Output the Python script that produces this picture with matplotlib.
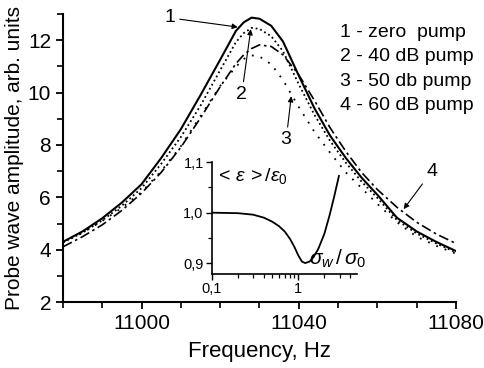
import matplotlib
matplotlib.use('Agg')
import matplotlib.pyplot as plt
from matplotlib.ticker import MultipleLocator, FixedLocator, FixedFormatter, NullFormatter

plt.rcParams['font.family'] = ['Liberation Sans', 'DejaVu Sans']
plt.rcParams['mathtext.fontset'] = 'custom'
plt.rcParams['mathtext.rm'] = 'Liberation Sans'
plt.rcParams['mathtext.it'] = 'Liberation Sans:italic'

# frequency grid, Hz
freq = [10980, 10985, 10990, 10995, 11000, 11005, 11010, 11015, 11020, 11024, 11026, 11028, 11030,
        11033, 11036, 11040, 11044, 11048, 11052, 11056, 11060, 11065, 11070, 11075, 11080]

zero_pump = [4.30, 4.70, 5.20, 5.80, 6.50, 7.50, 8.60, 9.90, 11.25, 12.35, 12.68, 12.86, 12.82,
             12.55, 11.95, 10.65, 9.40, 8.35, 7.50, 6.75, 6.10, 5.22, 4.70, 4.30, 3.95]
pump_40 = [4.28, 4.65, 5.12, 5.68, 6.35, 7.28, 8.30, 9.50, 10.85, 11.92, 12.27, 12.47, 12.43,
           12.15, 11.58, 10.32, 9.15, 8.15, 7.32, 6.60, 5.98, 5.13, 4.62, 4.24, 3.90]
pump_50 = [4.28, 4.65, 5.10, 5.60, 6.20, 7.00, 7.95, 9.10, 10.25, 10.98, 11.28, 11.42, 11.38,
           11.08, 10.48, 9.45, 8.50, 7.70, 6.95, 6.35, 5.75, 5.05, 4.50, 4.15, 3.85]
pump_60 = [4.11, 4.50, 4.95, 5.50, 6.16, 6.95, 7.91, 9.03, 10.22, 11.10, 11.44, 11.68, 11.82,
           11.76, 11.44, 10.68, 9.70, 8.65, 7.75, 6.95, 6.30, 5.62, 5.05, 4.60, 4.24]

legend_lines = ['1 - zero  pump', '2 - 40 dB pump', '3 - 50 db pump', '4 - 60 dB pump']

# inset: <eps>/eps0 vs sigma_w/sigma_0
ratio = [0.1, 0.2, 0.3, 0.4, 0.5, 0.6, 0.7, 0.8, 0.9, 1.0, 1.1, 1.2, 1.35, 1.5, 1.7, 2.0, 2.3, 2.6, 2.95]
eps = [1.0, 0.999, 0.996, 0.99, 0.982, 0.973, 0.962, 0.948, 0.932, 0.915, 0.903, 0.9, 0.903,
       0.912, 0.928, 0.958, 0.995, 1.032, 1.073]

fig = plt.figure(figsize=(4.84, 3.68), dpi=100)
ax = fig.add_axes([0.130, 0.179, 0.812, 0.783])

ax.plot(freq, zero_pump, color='black', lw=1.5)
ax.plot(freq, pump_40, color='black', lw=1.3, linestyle=(0, (1, 1.6)))
ax.plot(freq, pump_50, color='black', lw=1.3, linestyle=(0, (1, 4)))
ax.plot(freq, pump_60, color='black', lw=1.2, linestyle=(0, (6, 2.2, 1.5, 2.2)))

ax.set_xlim(10980, 11080)
ax.set_ylim(2, 13)
ax.xaxis.set_major_locator(MultipleLocator(40))
ax.xaxis.set_minor_locator(MultipleLocator(10))
ax.yaxis.set_major_locator(MultipleLocator(2))
ax.yaxis.set_minor_locator(MultipleLocator(1))
for s in ['top', 'right']:
    ax.spines[s].set_visible(False)
for s in ['left', 'bottom']:
    ax.spines[s].set_linewidth(1.5)
ax.tick_params(which='major', direction='out', length=5, width=1.3, labelsize=15)
ax.tick_params(which='minor', direction='out', length=4, width=1.2)
ax.set_xlabel('Frequency, Hz', fontsize=16, labelpad=6)
ax.set_ylabel('Probe wave amplitude, arb. units', fontsize=15, labelpad=3)

for i, t in enumerate(legend_lines):
    ax.text(0.705, 0.935 - i * 0.084, t, transform=ax.transAxes, fontsize=14, va='center', ha='left')

arrow = dict(arrowstyle='-|>', color='black', lw=0.8, mutation_scale=8, shrinkA=1, shrinkB=0)
ax.annotate('1', xy=(11024.5, 12.5), xytext=(11007.3, 12.85), fontsize=14, ha='center', va='center', arrowprops=arrow)
ax.annotate('2', xy=(11027.8, 12.42), xytext=(11025.5, 9.93), fontsize=14, ha='center', va='center', arrowprops=arrow)
ax.annotate('3', xy=(11038.1, 9.86), xytext=(11036.8, 8.2), fontsize=14, ha='center', va='center', arrowprops=arrow)
ax.annotate('4', xy=(11066.7, 5.55), xytext=(11073.8, 6.98), fontsize=14, ha='center', va='center', arrowprops=arrow)

# inset
ins = fig.add_axes([0.438, 0.255, 0.300, 0.304])
ins.patch.set_alpha(0)
ins.plot(ratio, eps, color='black', lw=1.3)
ins.set_xscale('log')
ins.set_xlim(0.1, 4.8)
ins.set_ylim(0.878, 1.1)
for s in ['top', 'right']:
    ins.spines[s].set_visible(False)
for s in ['left', 'bottom']:
    ins.spines[s].set_linewidth(1.2)
ins.xaxis.set_major_locator(FixedLocator([0.1, 1]))
ins.xaxis.set_major_formatter(FixedFormatter(['0,1', '1']))
ins.xaxis.set_minor_locator(FixedLocator([0.2, 0.3, 0.4, 0.5, 0.6, 0.7, 0.8, 0.9, 2, 3, 4]))
ins.xaxis.set_minor_formatter(NullFormatter())
ins.yaxis.set_major_locator(FixedLocator([0.9, 1.0, 1.1]))
ins.yaxis.set_major_formatter(FixedFormatter(['0,9', '1,0', '1,1']))
ins.yaxis.set_minor_locator(FixedLocator([0.95, 1.05]))
ins.tick_params(which='major', direction='out', length=4, width=1.0, labelsize=10.5, pad=2)
ins.tick_params(which='minor', direction='out', length=3, width=0.9)
ins.text(0.02, 0.97, r'$<\,\varepsilon\,>/\varepsilon_0$', transform=ins.transAxes, fontsize=14, va='top', ha='left')
ins.text(0.67, 0.04, r'$\sigma_w\,/\,\sigma_0$', transform=ins.transAxes, fontsize=15, va='bottom', ha='left')

fig.savefig('out.png', dpi=100)
